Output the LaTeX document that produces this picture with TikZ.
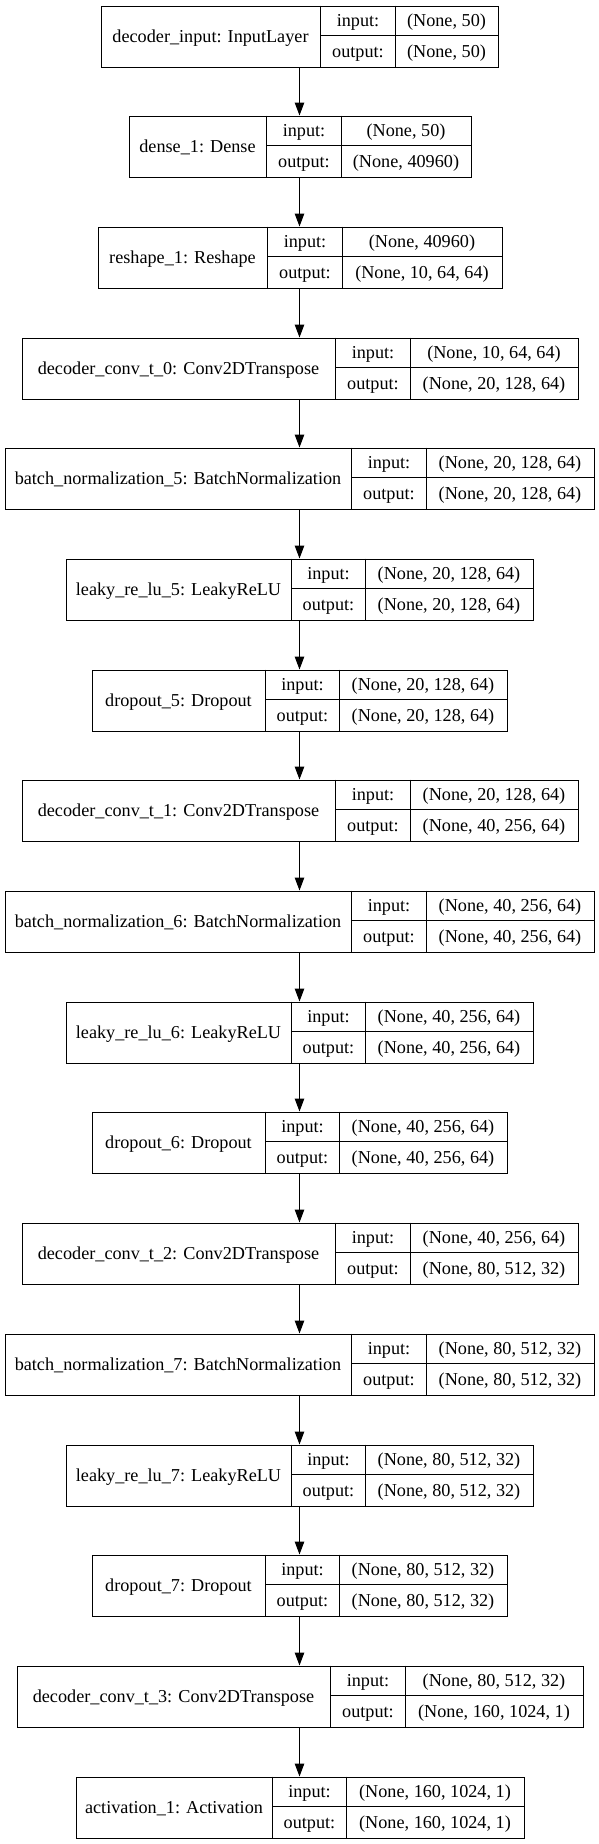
\documentclass[tikz,border=0pt]{standalone}
\usepackage{fontspec}
\setmainfont{Liberation Serif}
\newfontfamily\kerfont{Liberation Serif}
\usetikzlibrary{arrows.meta}
\tikzset{
  recbox/.style={draw=black, line width=1.1bp, inner sep=0pt, minimum height=61bp},
  recline/.style={draw=black, line width=1.1bp},
  txt/.style={inner sep=0pt, anchor=base, font=\kerfont\fontsize{18.2bp}{22bp}\selectfont, text=black},
  conn/.style={draw=black, line width=1.1bp, -{Triangle[length=13bp,width=9.5bp]}},
}
\newcommand\kerlayer[9]{%
  \pgfmathsetmacro\ktop{floor(5+110.7*#2)+0.5}%
  \pgfmathsetmacro\kbot{\ktop+61}%
  \pgfmathsetmacro\kmid{\ktop+30}%
  \pgfmathsetmacro\kra{\ktop+15.3+6.1}%
  \pgfmathsetmacro\krb{\ktop+45.8+6.1}%
  \pgfmathsetmacro\kcl{(#3+#4)/2}%
  \pgfmathsetmacro\kcm{(#4+#5)/2}%
  \pgfmathsetmacro\kcr{(#5+#6)/2}%
  \pgfmathsetmacro\kbl{\ktop+30.5+6.1}%
  \node[recbox, minimum width={(#6-#3)*1bp}, anchor=north west] (#1) at (#3,\ktop) {};
  \draw[recline] (#4,\ktop) -- (#4,\kbot) (#5,\ktop) -- (#5,\kbot) (#4,\kmid) -- (#6,\kmid);
  \node[txt] (#1-name) at (\kcl,\kbl) {#7};
  \node[txt] (#1-inl) at (\kcm,\kra) {input:};
  \node[txt] (#1-outl) at (\kcm,\krb) {output:};
  \node[txt] (#1-ins) at (\kcr,\kra) {#8};
  \node[txt] (#1-outs) at (\kcr,\krb) {#9};
}
\begin{document}
\begin{tikzpicture}[x=1bp,y=-1bp]
\useasboundingbox (0,0) rectangle (599,1844);
\coordinate (axis) at (299.5,0);
\kerlayer{L0}{0}{100.5}{320.5}{395.5}{497.5}{decoder\_input: InputLayer}{(None, 50)}{(None, 50)}
\kerlayer{L1}{1}{128.5}{266.5}{341.5}{470.5}{dense\_1: Dense}{(None, 50)}{(None, 40960)}
\kerlayer{L2}{2}{97.5}{267.5}{342.5}{501.5}{reshape\_1: Reshape}{(None, 40960)}{(None, 10, 64, 64)}
\kerlayer{L3}{3}{21.5}{335.5}{410.5}{577.5}{decoder\_conv\_t\_0: Conv2DTranspose}{(None, 10, 64, 64)}{(None, 20, 128, 64)}
\kerlayer{L4}{4}{4.5}{351.5}{426.5}{593.5}{batch\_normalization\_5: BatchNormalization}{(None, 20, 128, 64)}{(None, 20, 128, 64)}
\kerlayer{L5}{5}{65.5}{291.5}{365.5}{532.5}{leaky\_re\_lu\_5: LeakyReLU}{(None, 20, 128, 64)}{(None, 20, 128, 64)}
\kerlayer{L6}{6}{91.5}{265.5}{339.5}{506.5}{dropout\_5: Dropout}{(None, 20, 128, 64)}{(None, 20, 128, 64)}
\kerlayer{L7}{7}{21.5}{335.5}{410.5}{577.5}{decoder\_conv\_t\_1: Conv2DTranspose}{(None, 20, 128, 64)}{(None, 40, 256, 64)}
\kerlayer{L8}{8}{4.5}{351.5}{426.5}{593.5}{batch\_normalization\_6: BatchNormalization}{(None, 40, 256, 64)}{(None, 40, 256, 64)}
\kerlayer{L9}{9}{65.5}{291.5}{365.5}{532.5}{leaky\_re\_lu\_6: LeakyReLU}{(None, 40, 256, 64)}{(None, 40, 256, 64)}
\kerlayer{L10}{10}{91.5}{265.5}{339.5}{506.5}{dropout\_6: Dropout}{(None, 40, 256, 64)}{(None, 40, 256, 64)}
\kerlayer{L11}{11}{21.5}{335.5}{410.5}{577.5}{decoder\_conv\_t\_2: Conv2DTranspose}{(None, 40, 256, 64)}{(None, 80, 512, 32)}
\kerlayer{L12}{12}{4.5}{351.5}{426.5}{593.5}{batch\_normalization\_7: BatchNormalization}{(None, 80, 512, 32)}{(None, 80, 512, 32)}
\kerlayer{L13}{13}{65.5}{291.5}{365.5}{532.5}{leaky\_re\_lu\_7: LeakyReLU}{(None, 80, 512, 32)}{(None, 80, 512, 32)}
\kerlayer{L14}{14}{91.5}{265.5}{339.5}{506.5}{dropout\_7: Dropout}{(None, 80, 512, 32)}{(None, 80, 512, 32)}
\kerlayer{L15}{15}{16.5}{330.5}{405.5}{582.5}{decoder\_conv\_t\_3: Conv2DTranspose}{(None, 80, 512, 32)}{(None, 160, 1024, 1)}
\kerlayer{L16}{16}{75.5}{272.5}{346.5}{523.5}{activation\_1: Activation}{(None, 160, 1024, 1)}{(None, 160, 1024, 1)}
\draw[conn] (L0.south -| axis) -- (L1.north -| axis);
\draw[conn] (L1.south -| axis) -- (L2.north -| axis);
\draw[conn] (L2.south -| axis) -- (L3.north -| axis);
\draw[conn] (L3.south -| axis) -- (L4.north -| axis);
\draw[conn] (L4.south -| axis) -- (L5.north -| axis);
\draw[conn] (L5.south -| axis) -- (L6.north -| axis);
\draw[conn] (L6.south -| axis) -- (L7.north -| axis);
\draw[conn] (L7.south -| axis) -- (L8.north -| axis);
\draw[conn] (L8.south -| axis) -- (L9.north -| axis);
\draw[conn] (L9.south -| axis) -- (L10.north -| axis);
\draw[conn] (L10.south -| axis) -- (L11.north -| axis);
\draw[conn] (L11.south -| axis) -- (L12.north -| axis);
\draw[conn] (L12.south -| axis) -- (L13.north -| axis);
\draw[conn] (L13.south -| axis) -- (L14.north -| axis);
\draw[conn] (L14.south -| axis) -- (L15.north -| axis);
\draw[conn] (L15.south -| axis) -- (L16.north -| axis);
\end{tikzpicture}
\end{document}
